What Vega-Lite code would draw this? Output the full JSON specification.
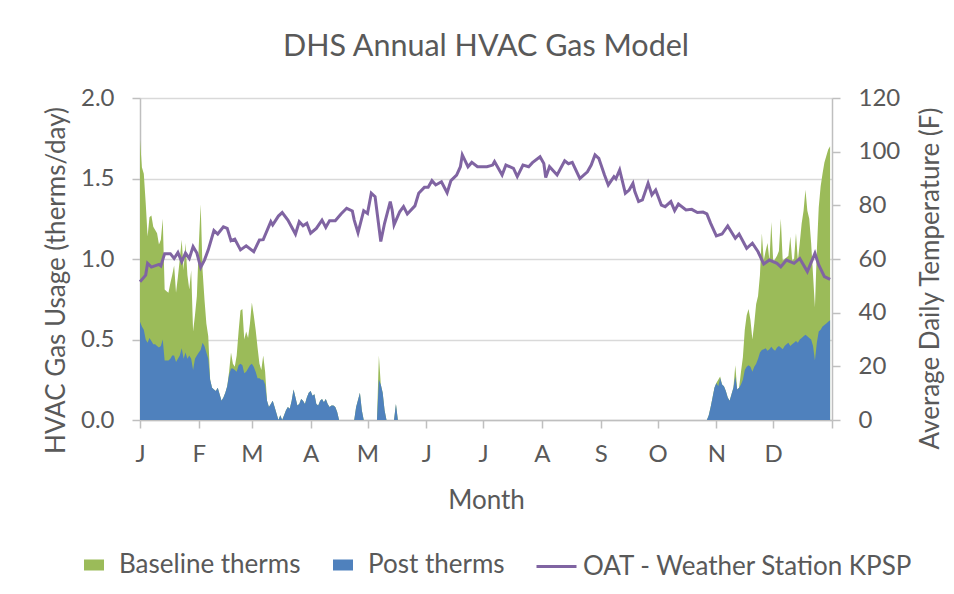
{
  "$schema": "https://vega.github.io/schema/vega-lite/v6.json",
  "width": 692,
  "height": 322,
  "autosize": {"type": "none"},
  "padding": {"left": 140, "top": 98, "right": 122, "bottom": 174},
  "background": "white",
  "title": {"text": "DHS Annual HVAC Gas Model", "fontSize": 30.5, "font": "Lato", "fontWeight": "normal", "color": "#595959", "offset": 24, "anchor": "middle"},
  "config": {
    "view": {"stroke": null},
    "font": "Lato",
    "axis": {"labelFont": "Lato", "titleFont": "Lato", "labelColor": "#595959", "titleColor": "#595959", "labelFontSize": 24, "titleFontSize": 26, "titleFontWeight": "normal", "domainColor": "#BFBFBF", "tickColor": "#BFBFBF", "gridColor": "#D9D9D9", "domainWidth": 1.5, "gridWidth": 1.5, "tickWidth": 1.5},
    "legend": {"labelFont": "Lato", "labelFontSize": 26, "labelColor": "#595959", "labelLimit": 500, "padding": 0}
  },
  "datasets": {
    "therms": [
      {"d":0,"b":1.74,"p":0.61},{"d":1,"b":1.57,"p":0.58},{"d":2,"b":1.53,"p":0.56},{"d":3,"b":1.35,"p":0.5},{"d":4,"b":1.14,"p":0.48},{"d":5,"b":1.26,"p":0.51},{"d":6,"b":1.27,"p":0.49},{"d":7,"b":1.2,"p":0.47},{"d":8,"b":1.18,"p":0.47},{"d":9,"b":1.16,"p":0.46},
      {"d":10,"b":1.09,"p":0.45},{"d":11,"b":1.12,"p":0.46},{"d":12,"b":1.25,"p":0.5},{"d":13,"b":0.81,"p":0.37},{"d":14,"b":0.8,"p":0.37},{"d":15,"b":0.79,"p":0.37},{"d":16,"b":0.85,"p":0.38},{"d":17,"b":0.9,"p":0.4},{"d":18,"b":0.96,"p":0.4},{"d":19,"b":0.79,"p":0.36},
      {"d":20,"b":0.89,"p":0.38},{"d":21,"b":1.0,"p":0.4},{"d":22,"b":1.12,"p":0.445},{"d":23,"b":0.93,"p":0.38},{"d":24,"b":1.1,"p":0.42},{"d":25,"b":0.9,"p":0.38},{"d":26,"b":0.81,"p":0.4},{"d":27,"b":0.93,"p":0.38},{"d":28,"b":0.55,"p":0.31},{"d":29,"b":0.65,"p":0.38},
      {"d":30,"b":0.77,"p":0.4},{"d":31,"b":1.08,"p":0.42},{"d":32,"b":1.34,"p":0.435},{"d":33,"b":0.93,"p":0.48},{"d":34,"b":0.75,"p":0.46},{"d":35,"b":0.6,"p":0.42},{"d":36,"b":0.52,"p":0.38},{"d":37,"b":0.25,"p":0.25},{"d":38,"b":0.2,"p":0.2},{"d":39,"b":0.19,"p":0.19},
      {"d":40,"b":0.18,"p":0.18},{"d":41,"b":0.2,"p":0.2},{"d":42,"b":0.16,"p":0.16},{"d":43,"b":0.12,"p":0.12},{"d":44,"b":0.14,"p":0.14},{"d":45,"b":0.17,"p":0.17},{"d":46,"b":0.21,"p":0.21},{"d":47,"b":0.3,"p":0.28},{"d":48,"b":0.42,"p":0.32},{"d":49,"b":0.35,"p":0.32},
      {"d":50,"b":0.33,"p":0.31},{"d":51,"b":0.4,"p":0.3},{"d":52,"b":0.55,"p":0.34},{"d":53,"b":0.68,"p":0.35},{"d":54,"b":0.69,"p":0.34},{"d":55,"b":0.5,"p":0.29},{"d":56,"b":0.55,"p":0.3},{"d":57,"b":0.51,"p":0.32},{"d":58,"b":0.6,"p":0.34},{"d":59,"b":0.73,"p":0.35},
      {"d":60,"b":0.65,"p":0.33},{"d":61,"b":0.56,"p":0.3},{"d":62,"b":0.45,"p":0.26},{"d":63,"b":0.35,"p":0.26},{"d":64,"b":0.31,"p":0.25},{"d":65,"b":0.4,"p":0.25},{"d":66,"b":0.3,"p":0.22},{"d":67,"b":0.12,"p":0.12},{"d":68,"b":0.08,"p":0.08},{"d":69,"b":0.1,"p":0.1},
      {"d":70,"b":0.12,"p":0.12},{"d":71,"b":0.08,"p":0.08},{"d":72,"b":0.04,"p":0.04},{"d":73,"b":0,"p":0},{"d":74,"b":0.03,"p":0.03},{"d":75,"b":0,"p":0},{"d":76,"b":0.03,"p":0.03},{"d":77,"b":0.06,"p":0.06},{"d":78,"b":0.08,"p":0.08},{"d":79,"b":0.07,"p":0.07},
      {"d":80,"b":0.12,"p":0.12},{"d":81,"b":0.19,"p":0.19},{"d":82,"b":0.14,"p":0.14},{"d":83,"b":0.09,"p":0.09},{"d":84,"b":0.1,"p":0.1},{"d":85,"b":0.13,"p":0.13},{"d":86,"b":0.12,"p":0.12},{"d":87,"b":0.1,"p":0.1},{"d":88,"b":0.14,"p":0.14},{"d":89,"b":0.17,"p":0.17},
      {"d":90,"b":0.18,"p":0.18},{"d":91,"b":0.15,"p":0.15},{"d":92,"b":0.16,"p":0.16},{"d":93,"b":0.1,"p":0.1},{"d":94,"b":0.09,"p":0.09},{"d":95,"b":0.12,"p":0.12},{"d":96,"b":0.13,"p":0.13},{"d":97,"b":0.11,"p":0.11},{"d":98,"b":0.13,"p":0.13},{"d":99,"b":0.1,"p":0.1},
      {"d":100,"b":0.08,"p":0.08},{"d":101,"b":0.09,"p":0.09},{"d":102,"b":0.09,"p":0.09},{"d":103,"b":0.08,"p":0.08},{"d":104,"b":0.05,"p":0.05},{"d":105,"b":0,"p":0},{"d":113,"b":0,"p":0},{"d":114,"b":0.08,"p":0.08},{"d":116,"b":0.17,"p":0.17},{"d":117,"b":0.06,"p":0.06},
      {"d":118,"b":0,"p":0},{"d":125,"b":0,"p":0},{"d":126,"b":0.4,"p":0.25},{"d":127,"b":0.22,"p":0.22},{"d":128,"b":0.17,"p":0.17},{"d":129,"b":0.06,"p":0.06},{"d":130,"b":0,"p":0},{"d":134,"b":0,"p":0},{"d":135,"b":0.1,"p":0.1},{"d":136,"b":0,"p":0},
      {"d":299,"b":0,"p":0},{"d":300,"b":0.03,"p":0.03},{"d":301,"b":0.08,"p":0.08},{"d":302,"b":0.14,"p":0.14},{"d":303,"b":0.2,"p":0.2},{"d":304,"b":0.23,"p":0.23},{"d":305,"b":0.25,"p":0.21},{"d":306,"b":0.27,"p":0.26},{"d":307,"b":0.22,"p":0.22},{"d":308,"b":0.21,"p":0.21},
      {"d":309,"b":0.18,"p":0.18},{"d":310,"b":0.14,"p":0.14},{"d":311,"b":0.12,"p":0.12},{"d":312,"b":0.16,"p":0.16},{"d":313,"b":0.2,"p":0.2},{"d":314,"b":0.34,"p":0.27},{"d":315,"b":0.19,"p":0.19},{"d":316,"b":0.2,"p":0.2},{"d":317,"b":0.3,"p":0.22},{"d":318,"b":0.39,"p":0.25},
      {"d":319,"b":0.56,"p":0.31},{"d":320,"b":0.65,"p":0.33},{"d":321,"b":0.69,"p":0.34},{"d":322,"b":0.62,"p":0.33},{"d":323,"b":0.5,"p":0.3},{"d":324,"b":0.6,"p":0.33},{"d":325,"b":0.72,"p":0.35},{"d":326,"b":0.77,"p":0.38},{"d":327,"b":0.9,"p":0.42},{"d":328,"b":1.16,"p":0.435},
      {"d":329,"b":0.99,"p":0.44},{"d":330,"b":1.05,"p":0.445},{"d":331,"b":1.1,"p":0.43},{"d":332,"b":0.99,"p":0.44},{"d":333,"b":1.23,"p":0.455},{"d":334,"b":0.98,"p":0.44},{"d":335,"b":1.0,"p":0.43},{"d":336,"b":1.02,"p":0.45},{"d":337,"b":1.05,"p":0.46},{"d":338,"b":1.25,"p":0.45},
      {"d":339,"b":0.99,"p":0.44},{"d":340,"b":1.0,"p":0.46},{"d":341,"b":1.01,"p":0.47},{"d":342,"b":1.02,"p":0.48},{"d":343,"b":1.14,"p":0.46},{"d":344,"b":0.99,"p":0.47},{"d":345,"b":1.0,"p":0.48},{"d":346,"b":1.16,"p":0.49},{"d":347,"b":0.99,"p":0.48},{"d":348,"b":1.1,"p":0.5},
      {"d":349,"b":1.22,"p":0.51},{"d":350,"b":1.3,"p":0.52},{"d":351,"b":1.43,"p":0.53},{"d":352,"b":1.3,"p":0.52},{"d":353,"b":1.25,"p":0.51},{"d":354,"b":1.1,"p":0.5},{"d":355,"b":0.9,"p":0.46},{"d":356,"b":0.7,"p":0.37},{"d":357,"b":1.05,"p":0.48},{"d":358,"b":1.32,"p":0.55},
      {"d":359,"b":1.45,"p":0.56},{"d":360,"b":1.53,"p":0.58},{"d":361,"b":1.6,"p":0.59},{"d":362,"b":1.64,"p":0.6},{"d":363,"b":1.68,"p":0.61},{"d":364,"b":1.7,"p":0.62}
    ],
    "oat": [
      {"d":0,"t":51.5},{"d":3,"t":54},{"d":4,"t":58.4},{"d":6,"t":57},{"d":10,"t":58},{"d":11,"t":57.4},{"d":13,"t":62},{"d":16,"t":62},{"d":18,"t":60.2},{"d":20,"t":62.4},
      {"d":22,"t":59},{"d":24,"t":62.2},{"d":26,"t":60.2},{"d":28,"t":64.6},{"d":30,"t":62.2},{"d":32,"t":56.9},{"d":34,"t":59.6},{"d":36,"t":63.4},{"d":39,"t":70.6},{"d":41,"t":69.3},
      {"d":44,"t":72},{"d":46,"t":71.4},{"d":48,"t":66.8},{"d":50,"t":67.4},{"d":53,"t":63.4},{"d":56,"t":64.9},{"d":60,"t":62.7},{"d":63,"t":67.1},{"d":65,"t":67.2},{"d":69,"t":73.9},
      {"d":70,"t":72.7},{"d":73,"t":76},{"d":75,"t":77.3},{"d":78,"t":74.5},{"d":82,"t":69.3},{"d":84,"t":73.9},{"d":86,"t":72.4},{"d":88,"t":73.3},{"d":90,"t":69.6},{"d":93,"t":71.4},
      {"d":96,"t":74.5},{"d":98,"t":71.8},{"d":100,"t":74.3},{"d":103,"t":74.3},{"d":106,"t":76.8},{"d":109,"t":78.9},{"d":112,"t":77.9},{"d":113,"t":74.5},{"d":115,"t":69.8},{"d":118,"t":78},
      {"d":120,"t":77},{"d":122,"t":84.5},{"d":124,"t":83.2},{"d":127,"t":66.5},{"d":129,"t":73.3},{"d":132,"t":81.4},{"d":133,"t":78.3},{"d":134,"t":72.7},{"d":137,"t":77.6},{"d":139,"t":79.5},
      {"d":141,"t":76.8},{"d":145,"t":79.8},{"d":147,"t":84.5},{"d":150,"t":86.7},{"d":152,"t":86.7},{"d":154,"t":89.2},{"d":156,"t":87.6},{"d":159,"t":88.8},{"d":162,"t":84.7},{"d":164,"t":89.2},
      {"d":167,"t":91.3},{"d":169,"t":94.4},{"d":170,"t":98.8},{"d":173,"t":94.4},{"d":175,"t":96},{"d":178,"t":94.4},{"d":180,"t":94.4},{"d":183,"t":94.4},{"d":186,"t":95},{"d":187,"t":96.3},
      {"d":191,"t":91.3},{"d":193,"t":95},{"d":197,"t":93.8},{"d":199,"t":90.7},{"d":202,"t":95},{"d":205,"t":94.4},{"d":207,"t":95.9},{"d":211,"t":98.1},{"d":213,"t":95.6},{"d":214,"t":90.4},
      {"d":216,"t":94.4},{"d":220,"t":91.3},{"d":224,"t":96.6},{"d":226,"t":95.5},{"d":228,"t":96},{"d":232,"t":90},{"d":236,"t":92.5},{"d":238,"t":95},{"d":240,"t":98.8},{"d":242,"t":97.5},
      {"d":245,"t":91.3},{"d":247,"t":87.6},{"d":250,"t":90.7},{"d":251,"t":89.9},{"d":253,"t":93.2},{"d":256,"t":84.5},{"d":258,"t":85.7},{"d":260,"t":88.2},{"d":261,"t":85.1},{"d":263,"t":81.4},
      {"d":265,"t":82},{"d":268,"t":88.2},{"d":270,"t":83.9},{"d":272,"t":85.7},{"d":275,"t":80.1},{"d":277,"t":79.5},{"d":280,"t":81.4},{"d":282,"t":78},{"d":284,"t":80.5},{"d":288,"t":78.3},
      {"d":291,"t":78.5},{"d":294,"t":77.3},{"d":297,"t":77.5},{"d":299,"t":76.8},{"d":301,"t":73.3},{"d":304,"t":68.6},{"d":307,"t":69.3},{"d":310,"t":72.3},{"d":314,"t":67.7},{"d":316,"t":69.3},
      {"d":320,"t":64},{"d":323,"t":65.9},{"d":326,"t":62.7},{"d":329,"t":58.1},{"d":332,"t":59.6},{"d":336,"t":58.4},{"d":338,"t":57.1},{"d":341,"t":59.6},{"d":345,"t":58.4},{"d":348,"t":60.2},
      {"d":352,"t":55.3},{"d":356,"t":62.1},{"d":358,"t":57.8},{"d":361,"t":53.4},{"d":364,"t":52.4}
    ]
  },
  "layer": [
    {
      "layer": [
        {
          "data": {"name": "therms"},
          "mark": {"type": "area", "interpolate": "linear"},
          "encoding": {
            "x": {"field": "d", "type": "quantitative", "scale": {"domain": [0, 365], "nice": false, "zero": false},
              "axis": {"values": [0,31,59,90,120,151,181,212,243,273,304,334,365], "labelExpr": "['J','F','M','A','M','J','J','A','S','O','N','D',''][indexof([0,31,59,90,120,151,181,212,243,273,304,334,365], datum.value)]", "title": "Month", "grid": false, "tickSize": 8, "labelPadding": 14, "labelFlush": false, "labelOverlap": false, "titleX": 346, "titleY": 80, "titleBaseline": "middle"}},
            "y": {"field": "b", "type": "quantitative", "title": "HVAC Gas Usage (therms/day)", "scale": {"domain": [0, 2], "nice": false},
              "axis": {"values": [0, 0.5, 1, 1.5, 2], "format": ".1f", "grid": true, "tickSize": 8, "labelPadding": 18, "titleX": -84, "titleY": 182, "titleAngle": -90, "titleBaseline": "middle", "titleAlign": "center"}},
            "fill": {"datum": "Baseline therms", "type": "nominal",
              "scale": {"domain": ["Baseline therms", "Post therms"], "range": ["#9BBB59", "#4F81BD"]},
              "legend": {"title": null, "orient": "none", "legendX": -66, "legendY": 447, "direction": "horizontal", "symbolType": "M-0.5,-0.275H0.5V0.275H-0.5Z", "symbolSize": 1600, "symbolStrokeWidth": 0, "labelOffset": 5, "columnPadding": 22}}
          }
        },
        {
          "data": {"name": "therms"},
          "mark": {"type": "area", "interpolate": "linear"},
          "encoding": {
            "x": {"field": "d", "type": "quantitative"},
            "y": {"field": "p", "type": "quantitative", "title": "HVAC Gas Usage (therms/day)"},
            "fill": {"datum": "Post therms", "type": "nominal"}
          }
        }
      ]
    },
    {
      "data": {"name": "oat"},
      "mark": {"type": "line", "strokeWidth": 3, "interpolate": "linear"},
      "encoding": {
        "x": {"field": "d", "type": "quantitative"},
        "y": {"field": "t", "type": "quantitative", "title": "Average Daily Temperature (F)", "scale": {"domain": [0, 120], "nice": false},
          "axis": {"orient": "right", "values": [0,20,40,60,80,100,120], "grid": false, "tickSize": 8, "labelPadding": 18, "titleX": 98, "titleY": 180, "titleAngle": -90, "titleBaseline": "middle", "titleAlign": "center"}},
        "stroke": {"datum": "OAT - Weather Station KPSP", "type": "nominal", "scale": {"range": ["#8064A2"]},
          "legend": {"title": null, "orient": "none", "legendX": 395, "legendY": 447, "symbolType": "stroke", "symbolSize": 1600, "symbolStrokeWidth": 3, "labelOffset": 5}}
      }
    }
  ],
  "resolve": {"scale": {"y": "independent"}}
}
